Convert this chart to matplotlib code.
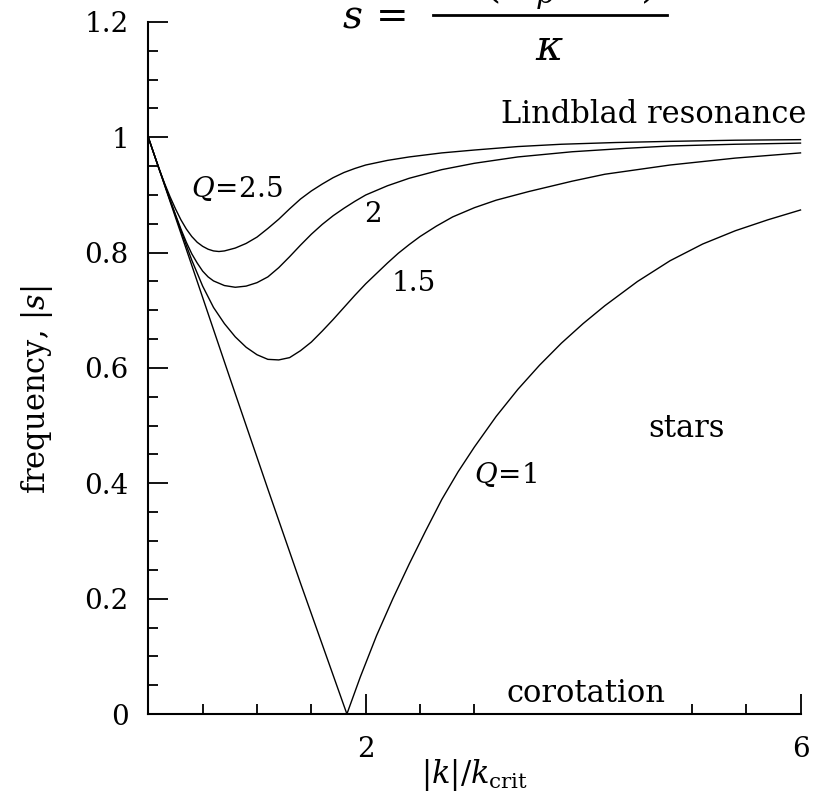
import numpy as np
import matplotlib.pyplot as plt
from matplotlib.lines import Line2D
from matplotlib.ticker import FixedLocator

plt.rcParams['font.family'] = 'DejaVu Serif'
plt.rcParams['mathtext.fontset'] = 'dejavuserif'

# ---- curves: |k|/k_crit vs |s| ----
x_q25 = [0.0, 0.05, 0.10, 0.15, 0.20, 0.25, 0.30, 0.35, 0.40, 0.45, 0.50, 0.55, 0.60,
         0.65, 0.70, 0.80, 0.90, 1.00, 1.10, 1.20, 1.30, 1.40, 1.50, 1.60, 1.70, 1.80,
         1.90, 2.00, 2.20, 2.40, 2.70, 3.00, 3.40, 3.80, 4.30, 4.80, 5.40, 6.00]
s_q25 = [1.0, 0.972, 0.945, 0.920, 0.897, 0.876, 0.857, 0.841, 0.828, 0.818, 0.811, 0.806, 0.803,
         0.802, 0.803, 0.808, 0.816, 0.827, 0.842, 0.858, 0.876, 0.893, 0.907, 0.919, 0.930, 0.939,
         0.946, 0.952, 0.960, 0.966, 0.973, 0.978, 0.984, 0.988, 0.991, 0.993, 0.995, 0.996]

x_q2 = [0.0, 0.10, 0.20, 0.25, 0.30, 0.35, 0.40, 0.45, 0.50, 0.55, 0.60, 0.70, 0.80, 0.90,
        1.00, 1.10, 1.20, 1.30, 1.40, 1.50, 1.60, 1.70, 1.80, 1.90, 2.00, 2.20, 2.40,
        2.70, 3.00, 3.40, 3.90, 4.40, 4.80, 5.40, 6.00]
s_q2 = [1.0, 0.945, 0.892, 0.866, 0.841, 0.818, 0.798, 0.782, 0.768, 0.758, 0.751, 0.743, 0.740, 0.742,
        0.748, 0.758, 0.774, 0.793, 0.813, 0.832, 0.849, 0.864, 0.877, 0.889, 0.900, 0.916, 0.929,
        0.944, 0.955, 0.966, 0.975, 0.981, 0.985, 0.988, 0.990]

x_q15 = [0.0, 0.10, 0.20, 0.30, 0.40, 0.50, 0.60, 0.70, 0.80, 0.90, 1.00, 1.10, 1.20, 1.30,
         1.40, 1.50, 1.60, 1.70, 1.80, 1.90, 2.00, 2.10, 2.20, 2.30, 2.40, 2.50, 2.65, 2.80,
         3.00, 3.20, 3.50, 3.90, 4.20, 4.80, 5.40, 6.00]
s_q15 = [1.0, 0.945, 0.891, 0.838, 0.787, 0.742, 0.705, 0.677, 0.654, 0.636, 0.623, 0.615, 0.614, 0.618,
         0.630, 0.645, 0.664, 0.684, 0.705, 0.726, 0.746, 0.764, 0.782, 0.799, 0.814, 0.828, 0.846, 0.862,
         0.878, 0.891, 0.906, 0.924, 0.936, 0.952, 0.964, 0.973]

x_q1 = [0.0, 0.40, 0.75, 1.10, 1.40, 1.827, 1.95, 2.10, 2.25, 2.40, 2.55, 2.70, 2.85,
        3.00, 3.20, 3.40, 3.60, 3.80, 4.00, 4.20, 4.50, 4.80, 5.10, 5.40, 5.70, 6.00]
s_q1 = [1.0, 0.778, 0.583, 0.390, 0.227, 0.0, 0.064, 0.136, 0.200, 0.260, 0.317, 0.372, 0.420,
        0.463, 0.516, 0.563, 0.605, 0.643, 0.677, 0.708, 0.750, 0.786, 0.815, 0.838, 0.857, 0.874]

y_ticks = [0, 0.2, 0.4, 0.6, 0.8, 1.0, 1.2]
y_labels = ['0', '0.2', '0.4', '0.6', '0.8', '1', '1.2']
x_ticks = [2, 6]
x_labels = ['2', '6']
# minor ticks under the "corotation" label are absent in the original
x_minor = [0.5, 1.0, 1.5, 2.5, 3.0, 5.0, 5.5]

W, H = 833, 805
fig = plt.figure(figsize=(W / 100, H / 100), dpi=100)
ax = fig.add_axes([148.3 / W, 1 - 714 / H, (800.5 - 148.3) / W, (714 - 22) / H])

for xs, ys in [(x_q25, s_q25), (x_q2, s_q2), (x_q15, s_q15), (x_q1, s_q1)]:
    ax.plot(xs, ys, color='black', lw=1.0, clip_on=False)

ax.set_xlim(0, 6)
ax.set_ylim(0, 1.2)
for side in ['top', 'right']:
    ax.spines[side].set_visible(False)
for side in ['left', 'bottom']:
    ax.spines[side].set_linewidth(1.5)

ax.set_xticks(x_ticks)
ax.set_xticklabels(x_labels)
ax.xaxis.set_minor_locator(FixedLocator(x_minor))
ax.set_yticks(y_ticks)
ax.set_yticklabels(y_labels)
ax.yaxis.set_minor_locator(FixedLocator(np.arange(0, 1.21, 0.05)))
ax.tick_params(which='major', direction='in', length=14.4, width=1.3, labelsize=20)
ax.tick_params(which='minor', direction='in', length=7.2, width=1.3)
ax.tick_params(axis='x', which='major', pad=16)
ax.tick_params(axis='y', which='major', pad=14)

ax.set_xlabel(r'$|k|/k_{\rm crit}$', fontsize=22)
ax.xaxis.set_label_coords(0.5, -0.062)
ax.set_ylabel(r'frequency, $|s|$', fontsize=22)
ax.yaxis.set_label_coords(-0.143, 0.468)

# curve labels
fs = 20
ax.text(0.816, 0.912, r'$Q\!=\!2.5$', fontsize=fs, ha='center', va='center')
ax.text(2.068, 0.867, '2', fontsize=fs, ha='center', va='center')
ax.text(2.443, 0.746, '1.5', fontsize=fs, ha='center', va='center')
ax.text(3.286, 0.416, r'$Q\!=\!1$', fontsize=fs, ha='center', va='center')
ax.text(4.951, 0.495, 'stars', fontsize=22, ha='center', va='center')
ax.text(6.05, 1.039, 'Lindblad resonance', fontsize=22, ha='right', va='center')
ax.text(4.024, 0.036, 'corotation', fontsize=22, ha='center', va='center')

# formula at the top; the numerator is cut off by the figure edge, as in the original
fig.text(342 / W, 1 - 28 / H, r'$s\,=$', fontsize=28, ha='left', va='baseline')
fig.add_artist(Line2D([433 / W, 667 / W], [1 - 15 / H, 1 - 15 / H],
                      transform=fig.transFigure, color='black', lw=2.0))
fig.text(550 / W, 1 + 3 / H, r'$m(\Omega_p-\Omega)$', fontsize=30, ha='center', va='baseline')
fig.text(550 / W, 1 - 60 / H, r'$\kappa$', fontsize=30, ha='center', va='baseline')

fig.savefig('out.png', dpi=100)
